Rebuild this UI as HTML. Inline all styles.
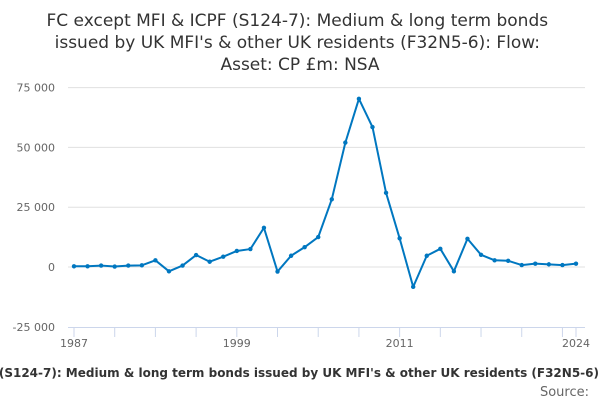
<!DOCTYPE html>
<html><head><meta charset="utf-8"><style>
body{margin:0;width:600px;height:400px;overflow:hidden;background:#fff;font-family:"Liberation Sans","DejaVu Sans",sans-serif;}
</style></head><body>
<svg width="600" height="400" id="c" font-family="DejaVu Sans, Liberation Sans, sans-serif">
<text x="300" y="26" text-anchor="middle" font-size="17" fill="#333">
<tspan x="300" dy="0">FC except MFI &amp; ICPF (S124-7): Medium &amp; long term bonds</tspan>
<tspan x="300" dy="22">issued by UK MFI's &amp; other UK residents (F32N5-6): Flow:</tspan>
<tspan x="300" dy="22">Asset: CP £m: NSA</tspan></text>
<g id="grid"></g><g id="xa"></g><g id="ser"></g>
<text x="599" y="377" text-anchor="end" font-size="12" font-weight="bold" fill="#333">FC except MFI &amp; ICPF (S124-7): Medium &amp; long term bonds issued by UK MFI's &amp; other UK residents (F32N5-6)</text>
<text x="589" y="396" text-anchor="end" font-size="13" fill="#666">Source:</text>
</svg>
<script>
const years=[1987,1988,1989,1990,1991,1992,1993,1994,1995,1996,1997,1998,1999,2000,2001,2002,2003,2004,2005,2006,2007,2008,2009,2010,2011,2012,2013,2014,2015,2016,2017,2018,2019,2020,2021,2022,2023,2024];
const values=[300,300,600,200,600,700,2800,-1800,600,5000,2200,4300,6700,7500,16400,-1900,4700,8300,12500,28300,52000,70300,58500,31000,12000,-8300,4700,7600,-1800,11800,5100,2800,2600,800,1400,1100,800,1400];
const yTicks=[75000,50000,25000,0,-25000];
const yTickLabels=["75 000","50 000","25 000","0","-25 000"];
const xLabels=[1987,1999,2011,2024];
const NS="http://www.w3.org/2000/svg";
const x=v=>74+(v-1987)*(576-74)/37;
const y=v=>267-v*59.8/25000;
function mk(t,a,p){const e=document.createElementNS(NS,t);for(const k in a)e.setAttribute(k,a[k]);document.getElementById(p).appendChild(e);return e;}
yTicks.forEach((t,i)=>{
 if(t!==-25000){const l=mk('line',{x1:68,x2:585,y1:y(t),y2:y(t),stroke:'#e0e0e0','stroke-width':1},'grid');
 
 }
 const tx=mk('text',{x:55,y:y(t)+4,'text-anchor':'end','font-size':11,fill:'#666'},'grid');
 tx.textContent=yTickLabels[i];
 
 
});
const ax=mk('line',{x1:68,x2:585,y1:327.5,y2:327.5,stroke:'#ccd6eb'},'xa');


for(let yr=1987;yr<=2024;yr+=3){const t=mk('line',{x1:x(yr),x2:x(yr),y1:327,y2:337,stroke:'#ccd6eb'},'xa');
 
 }
const t24=mk('line',{x1:x(2024),x2:x(2024),y1:327,y2:337,stroke:'#ccd6eb'},'xa');


xLabels.forEach(yr=>{const t=mk('text',{x:x(yr),y:347,'text-anchor':'middle','font-size':11,fill:'#666'},'xa');t.textContent=yr;
 
 });
const pl=mk('polyline',{points:years.map((yr,i)=>x(yr)+','+y(values[i])).join(' '),fill:'none',stroke:'#0077c0','stroke-width':2,'stroke-linejoin':'round'},'ser');


years.forEach((yr,i)=>{const c=mk('circle',{cx:x(yr),cy:y(values[i]),r:2.2,fill:'#0077c0'},'ser');
 
 });
</script>
</body></html>
